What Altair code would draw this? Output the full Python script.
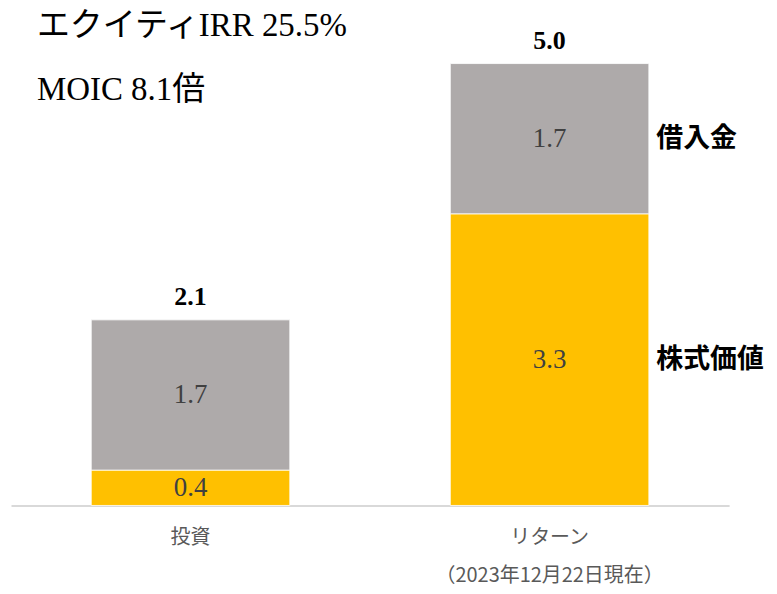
import altair as alt
import pandas as pd

categories = ["投資", "リターン"]
equity = [0.4, 3.3]
debt = [1.7, 1.7]
totals = [2.1, 5.0]
series_names = ["株式価値", "借入金"]
title_lines = ["エクイティIRR 25.5%", "MOIC 8.1倍"]
return_note = "（2023年12月22日現在）"

YELLOW = "#FFC000"
GRAY = "#AEAAAA"
SERIF = "'Liberation Serif', 'Noto Sans CJK JP'"
SANS = "'Noto Sans CJK JP'"

rows = []
for c, e, d in zip(categories, equity, debt):
    rows.append({"cat": c, "series": series_names[0], "value": e, "y0": 0.0, "y1": e})
    rows.append({"cat": c, "series": series_names[1], "value": d, "y0": e, "y1": e + d})
seg = pd.DataFrame(rows)
seg["mid"] = (seg["y0"] + seg["y1"]) / 2
seg["label"] = seg["value"].map(lambda v: f"{v:.1f}")

tot = pd.DataFrame({"cat": categories, "total": totals})
tot["label"] = tot["total"].map(lambda v: f"{v:.1f}")

side = seg[seg["cat"] == categories[1]].copy()

xscale = alt.Scale(domain=categories, paddingInner=0.447, paddingOuter=0.2235)
yscale = alt.Scale(domain=[0, 5.62], nice=False, zero=True)

xenc = alt.X(
    "cat:N",
    scale=xscale,
    sort=categories,
    title=None,
    axis=alt.Axis(
        labelAngle=0,
        ticks=False,
        domainColor="#d9d9d9",
        domainWidth=2,
        labelFont=SANS,
        labelFontSize=20,
        labelColor="#595959",
        labelPadding=22,
        labelLineHeight=38,
        labelLimit=0,
        labelExpr=f"datum.value == '{categories[1]}' ? ['{categories[1]}', '{return_note}'] : datum.label",
    ),
)

bars = alt.Chart(seg).mark_bar(stroke="white", strokeWidth=0.8).encode(
    x=xenc,
    y=alt.Y("y0:Q", scale=yscale, axis=None),
    y2="y1:Q",
    color=alt.Color("series:N", scale=alt.Scale(domain=series_names, range=[YELLOW, GRAY]), legend=None),
)

seg_text = alt.Chart(seg).mark_text(font=SERIF, fontSize=27, color="#404040", baseline="middle").encode(
    x=alt.X("cat:N", scale=xscale, sort=categories),
    y=alt.Y("mid:Q", scale=yscale, axis=None),
    text="label:N",
)

tot_text = alt.Chart(tot).mark_text(font=SERIF, fontSize=26, fontWeight="bold", color="#000000",
                                    baseline="alphabetic", dy=-15).encode(
    x=alt.X("cat:N", scale=xscale, sort=categories),
    y=alt.Y("total:Q", scale=yscale, axis=None),
    text="label:N",
)

side_text = alt.Chart(side).mark_text(font=SANS, fontSize=27, fontWeight="bold", color="#000000",
                                      align="left", baseline="middle").encode(
    x=alt.value(647),
    y=alt.Y("mid:Q", scale=yscale, axis=None),
    text="series:N",
)

title1 = alt.Chart().mark_text(font=SERIF, fontSize=33, color="#000000", align="left",
                               baseline="middle", text=title_lines[0]).encode(
    x=alt.value(26), y=alt.value(17))
title2 = alt.Chart().mark_text(font=SERIF, fontSize=33, color="#000000", align="left",
                               baseline="middle", text=title_lines[1]).encode(
    x=alt.value(26), y=alt.value(81))

chart = alt.layer(bars, seg_text, tot_text, side_text, title1, title2).properties(
    width=720,
    height=498,
    autosize=alt.AutoSizeParams(type="none"),
    padding={"left": 3, "top": 0, "right": 40, "bottom": 86},
    background="white",
).configure_view(stroke=None)

chart.save("out.html", embed_options={"renderer": "svg", "actions": False})
